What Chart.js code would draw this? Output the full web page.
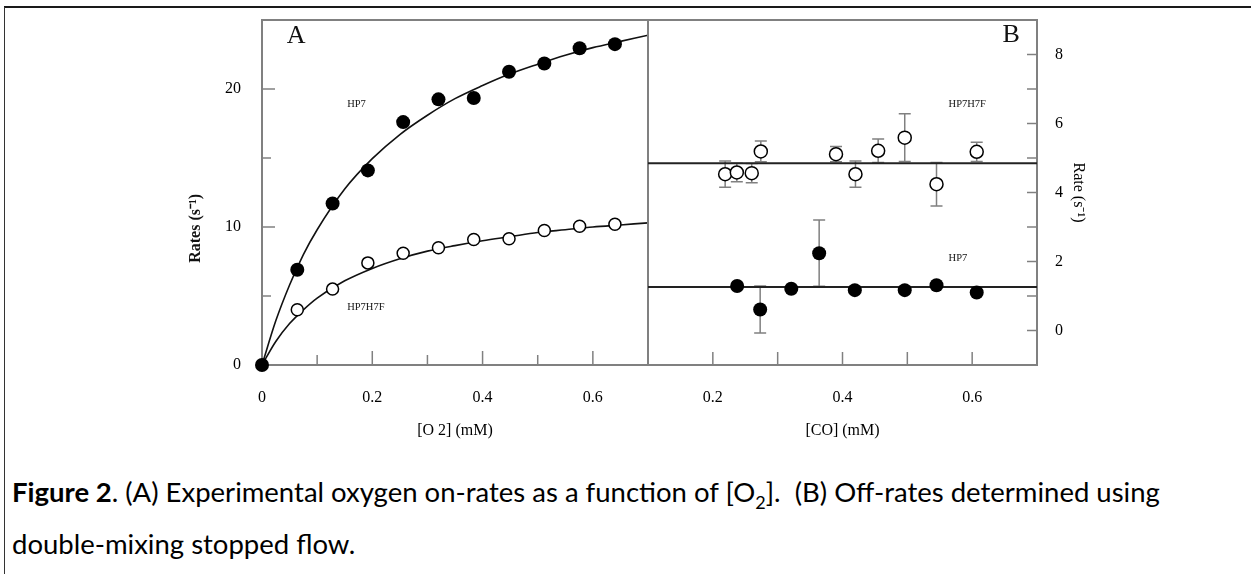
<!DOCTYPE html>
<html>
<head>
<meta charset="utf-8">
<script src="https://cdn.jsdelivr.net/npm/chart.js@4.4.1/dist/chart.umd.min.js"></script>
<style>
  body { margin: 0; background: #fff; }
  #figure { position: relative; width: 1251px; height: 574px; overflow: hidden; background: #fff; }
  #frameTop { position: absolute; left: 4px; right: 0; top: 6px; height: 0; border-top: 2px solid #1a1a1a; }
  #frameLeft { position: absolute; left: 4px; top: 7px; bottom: 0; width: 0; border-left: 1px solid #333; }
  canvas { position: absolute; top: 0; }
  #panelA { left: 150px; }
  #panelB { left: 640px; }
  #caption { position: absolute; left: 12px; top: 466px; font-family: Lato, "Open Sans", sans-serif; font-size: 27.5px; line-height: 52px; color: #000; white-space: nowrap; }
  #caption sub { font-size: 18px; line-height: 0; }
</style>
</head>
<body>
<div id="figure">
  <div id="frameTop"></div>
  <div id="frameLeft"></div>
  <canvas id="panelA" width="510" height="460"></canvas>
  <canvas id="panelB" width="480" height="460"></canvas>
  <div id="caption"><b>Figure 2</b>. (A) Experimental oxygen on-rates as a function of [O<sub>2</sub>].&nbsp; (B) Off-rates determined using<br>double-mixing stopped flow.</div>
</div>
<script>
//
// Panel A : on-rates vs [O2]
var o2Conc = [0, 0.064, 0.128, 0.192, 0.256, 0.32, 0.384, 0.448, 0.512, 0.576, 0.64];
var hp7Rates = [0, 6.9, 11.7, 14.1, 17.6, 19.25, 19.35, 21.25, 21.85, 22.95, 23.25];
var hp7h7fConc = [0.064, 0.128, 0.192, 0.256, 0.32, 0.384, 0.448, 0.512, 0.576, 0.64];
var hp7h7fRates = [4.0, 5.5, 7.4, 8.1, 8.5, 9.1, 9.15, 9.75, 10.05, 10.2];

// fitted curves
var fitConc = [0, 0.025, 0.05, 0.075, 0.1, 0.15, 0.2, 0.25, 0.3, 0.35, 0.4, 0.45, 0.5, 0.55, 0.6, 0.65, 0.7];
var hp7Fit = [0, 3.2, 5.8, 8.0, 9.8, 12.75, 14.95, 16.7, 18.1, 19.3, 20.25, 21.1, 21.8, 22.45, 23.0, 23.45, 23.9];
var hp7h7fFit = [0, 1.7, 3.0, 4.0, 4.85, 6.1, 7.0, 7.7, 8.25, 8.65, 9.0, 9.3, 9.6, 9.8, 10.0, 10.15, 10.3];

var aXLabels = [0, 0.2, 0.4, 0.6];
var aYLabels = [0, 10, 20];

//
// Panel B : off-rates vs [CO]
var coHp7h7f = [0.219, 0.237, 0.26, 0.274, 0.39, 0.42, 0.455, 0.496, 0.545, 0.607];
var offHp7h7f = [4.53, 4.58, 4.56, 5.19, 5.11, 4.53, 5.21, 5.59, 4.24, 5.18];
var errHp7h7f = [0.38, 0.27, 0.28, 0.3, 0.22, 0.38, 0.34, 0.69, 0.63, 0.28];

var coHp7 = [0.2375, 0.273, 0.321, 0.364, 0.419, 0.496, 0.545, 0.607];
var offHp7 = [1.29, 0.61, 1.21, 2.24, 1.17, 1.17, 1.31, 1.1];
var errHp7 = [0, 0.68, 0, 0.96, 0, 0, 0, 0];

var coRange = [0.1, 0.7];
var hp7h7fMean = [4.85, 4.85];
var hp7Mean = [1.26, 1.26];

var bXLabels = [0.2, 0.4, 0.6];
var bYLabels = [0, 2, 4, 6, 8];

var serif = '"Liberation Serif", "Times New Roman", serif';
var tickFont = { family: serif, size: 16 };
var ink = '#000';

function pts(xs, ys) {
    return xs.map(function (x, i) { return { x: x, y: ys[i] }; });
}
function inList(list, v) {
    return list.some(function (t) { return Math.abs(t - v) < 1e-6; });
}
// fixed box sizes, no automatic label padding
function fixBox(w, h) {
    return function (s) {
        if (w !== null) s.width = w;
        if (h !== null) s.height = h;
        s.paddingTop = 0; s.paddingBottom = 0; s.paddingLeft = 0; s.paddingRight = 0;
    };
}

//
// frame, inner tick marks, error bars and panel labels
function panelDecor(tickSpec, labels) {
    return {
        id: 'panelDecor',
        beforeDatasetsDraw: function (chart) {
            var ctx = chart.ctx, area = chart.chartArea;
            ctx.save();
            ctx.strokeStyle = '#808080';
            ctx.lineWidth = 1.5;
            tickSpec.forEach(function (spec) {
                var scale = chart.scales[spec.axis];
                scale.ticks.forEach(function (tick) {
                    var p = scale.getPixelForValue(tick.value);
                    var len = tick.label ? spec.major : spec.minor;
                    ctx.beginPath();
                    if (scale.isHorizontal()) {
                        ctx.moveTo(p, area.bottom); ctx.lineTo(p, area.bottom - len);
                    } else if (scale.position === 'left') {
                        ctx.moveTo(area.left, p); ctx.lineTo(area.left + len, p);
                    } else {
                        ctx.moveTo(area.right, p); ctx.lineTo(area.right - len, p);
                    }
                    ctx.stroke();
                });
            });
            chart.data.datasets.forEach(function (ds) {
                if (!ds.errors) return;
                var xs = chart.scales.x, ys = chart.scales.y;
                ds.data.forEach(function (pt, i) {
                    var e = ds.errors[i];
                    if (!e) return;
                    var px = xs.getPixelForValue(pt.x);
                    var top = ys.getPixelForValue(pt.y + e), bot = ys.getPixelForValue(pt.y - e);
                    ctx.beginPath();
                    ctx.moveTo(px, top); ctx.lineTo(px, bot);
                    ctx.moveTo(px - 6, top); ctx.lineTo(px + 6, top);
                    ctx.moveTo(px - 6, bot); ctx.lineTo(px + 6, bot);
                    ctx.stroke();
                });
            });
            ctx.lineWidth = 2;
            ctx.strokeRect(area.left, area.top, area.right - area.left, area.bottom - area.top);
            ctx.restore();
        },
        afterDraw: function (chart) {
            var ctx = chart.ctx;
            labels.forEach(function (l) {
                ctx.save();
                ctx.translate(chart.scales.x.getPixelForValue(l.x), chart.scales.y.getPixelForValue(l.y));
                if (l.rotate) ctx.rotate(l.rotate);
                ctx.font = l.font;
                ctx.fillStyle = '#111';
                ctx.textAlign = l.align || 'center';
                ctx.textBaseline = 'middle';
                ctx.fillText(l.text, 0, 0);
                ctx.restore();
            });
        }
    };
}

var smallFont = '10.5px ' + serif;

//
// Panel A
new Chart(document.getElementById('panelA'), {
    type: 'scatter',
    data: {
        datasets: [{
            data: pts(o2Conc, hp7Rates),
            pointRadius: 7, pointBackgroundColor: '#000', pointBorderColor: '#000', pointBorderWidth: 0,
            clip: false, order: 0
        }, {
            data: pts(hp7h7fConc, hp7h7fRates),
            pointRadius: 6, pointBackgroundColor: '#fff', pointBorderColor: '#000', pointBorderWidth: 1.5,
            clip: false, order: 1
        }, {
            data: pts(fitConc, hp7Fit),
            showLine: true, pointRadius: 0, borderColor: '#111', borderWidth: 1.6,
            cubicInterpolationMode: 'monotone', order: 2
        }, {
            data: pts(fitConc, hp7h7fFit),
            showLine: true, pointRadius: 0, borderColor: '#111', borderWidth: 1.6,
            cubicInterpolationMode: 'monotone', order: 2
        }]
    },
    options: {
        responsive: false,
        animation: false,
        layout: { padding: { top: 20, right: 12, left: 0, bottom: 0 } },
        plugins: { legend: { display: false }, tooltip: { enabled: false } },
        scales: {
            x: {
                type: 'linear', position: 'bottom', min: 0, max: 0.7,
                afterFit: fixBox(null, 95),
                grid: { display: false, drawTicks: false },
                border: { display: false },
                ticks: {
                    stepSize: 0.1, padding: 23, autoSkip: false, maxRotation: 0,
                    font: tickFont, color: ink,
                    callback: function (v) { return inList(aXLabels, v) ? (v === 0 ? '0' : v.toFixed(1)) : ''; }
                },
                title: { display: true, text: '[O 2] (mM)', font: tickFont, color: ink, padding: { top: 0, bottom: 20 } }
            },
            y: {
                type: 'linear', position: 'left', min: 0, max: 25,
                afterFit: fixBox(112, null),
                grid: { display: false, drawTicks: false },
                border: { display: false },
                ticks: {
                    stepSize: 5, padding: 21, font: tickFont, color: ink,
                    callback: function (v) { return inList(aYLabels, v) ? String(v) : ''; }
                }
            }
        }
    },
    plugins: [panelDecor(
        [{ axis: 'x', major: 14, minor: 10 }, { axis: 'y', major: 13, minor: 9 }],
        [
            { text: 'A', x: 0.062, y: 23.8, font: '26px ' + serif },
            { text: 'HP7', x: 0.1545, y: 18.9, align: 'left', font: smallFont },
            { text: 'HP7H7F', x: 0.1545, y: 4.2, align: 'left', font: smallFont },
            { text: 'Rates (s\u207B\u00B9)', x: -0.12, y: 9.9, rotate: -Math.PI / 2, font: 'bold 16px ' + serif }
        ]
    )]
});

//
// Panel B
new Chart(document.getElementById('panelB'), {
    type: 'scatter',
    data: {
        datasets: [{
            data: pts(coHp7h7f, offHp7h7f), errors: errHp7h7f,
            pointRadius: 6.5, pointBackgroundColor: '#fff', pointBorderColor: '#000', pointBorderWidth: 1.5,
            order: 0
        }, {
            data: pts(coHp7, offHp7), errors: errHp7,
            pointRadius: 7, pointBackgroundColor: '#000', pointBorderColor: '#000', pointBorderWidth: 0,
            order: 0
        }, {
            data: pts(coRange, hp7h7fMean),
            showLine: true, pointRadius: 0, borderColor: '#222', borderWidth: 2, order: 2
        }, {
            data: pts(coRange, hp7Mean),
            showLine: true, pointRadius: 0, borderColor: '#222', borderWidth: 2, order: 2
        }]
    },
    options: {
        responsive: false,
        animation: false,
        layout: { padding: { top: 20, right: 0, left: 8, bottom: 0 } },
        plugins: { legend: { display: false }, tooltip: { enabled: false } },
        scales: {
            x: {
                type: 'linear', position: 'bottom', min: 0.1, max: 0.7,
                afterFit: fixBox(null, 95),
                grid: { display: false, drawTicks: false },
                border: { display: false },
                ticks: {
                    stepSize: 0.1, padding: 23, autoSkip: false, maxRotation: 0,
                    font: tickFont, color: ink,
                    callback: function (v) { return inList(bXLabels, v) ? v.toFixed(1) : ''; }
                },
                title: { display: true, text: '[CO] (mM)', font: tickFont, color: ink, padding: { top: 0, bottom: 20 } }
            },
            y: {
                type: 'linear', position: 'right', min: -1, max: 9,
                afterFit: fixBox(83, null),
                grid: { display: false, drawTicks: false },
                border: { display: false },
                ticks: {
                    stepSize: 1, padding: 18, font: tickFont, color: ink,
                    callback: function (v) { return inList(bYLabels, v) ? String(v) : ''; }
                },
                title: { display: true, text: 'Rate (s\u207B\u00B9)', font: tickFont, color: ink, padding: { top: 32, bottom: 0 } }
            }
        }
    },
    plugins: [panelDecor(
        [{ axis: 'x', major: 13, minor: 13 }, { axis: 'y', major: 10, minor: 10 }],
        [
            { text: 'B', x: 0.66, y: 8.55, font: '26px ' + serif },
            { text: 'HP7H7F', x: 0.5636, y: 6.57, align: 'left', font: smallFont },
            { text: 'HP7', x: 0.5636, y: 2.09, align: 'left', font: smallFont }
        ]
    )]
});
</script>
</body>
</html>
